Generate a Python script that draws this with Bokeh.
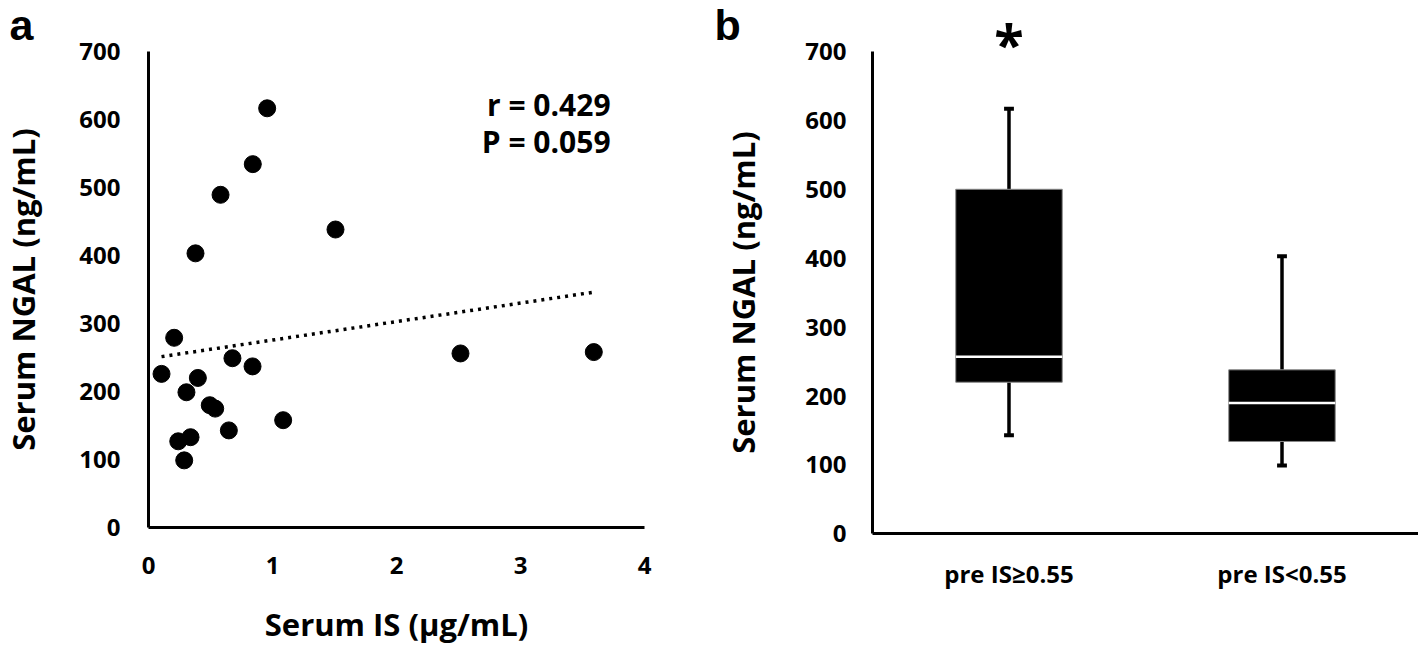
import numpy as np
from bokeh.plotting import figure
from bokeh.layouts import row
from bokeh.models import Range1d, FixedTicker, ColumnDataSource
from bokeh.core.properties import value
from bokeh.embed import file_html
from bokeh.resources import INLINE

# ---------------- data ----------------
# panel a: serum IS (µg/mL) vs serum NGAL (ng/mL)
serum_is = [0.957, 0.841, 0.581, 1.508, 0.379, 0.207, 2.516, 3.591, 0.677, 0.839,
            0.105, 0.398, 0.306, 0.494, 0.538, 1.086, 0.648, 0.339, 0.240, 0.288]
serum_ngal = [616, 534, 489, 438, 403, 279, 256, 258, 249, 237,
              226, 220, 199, 180, 175, 158, 143, 133, 127, 99]
stats_text = ["r = 0.429", "P = 0.059"]
xticks_a = [0, 1, 2, 3, 4]
yticks = [0, 100, 200, 300, 400, 500, 600, 700]

# panel b: box plot summaries
groups = ["pre IS\u22650.55", "pre IS<0.55"]
whisker_low = [143, 99]
q1 = [220, 134]
median = [257, 190]
q3 = [500, 238]
whisker_high = [617, 403]
significance = ["*", ""]

FONT = "Open Sans"
LETTER_FONT = "Liberation Sans"


def style_axes(p):
    for ax in (p.xaxis, p.yaxis):
        ax.axis_line_width = 3
        ax.axis_line_color = "black"
        ax.major_tick_out = 0
        ax.major_tick_in = 0
        ax.minor_tick_out = 0
        ax.minor_tick_in = 0
        ax.major_label_text_font = FONT
        ax.major_label_text_font_style = "bold"
        ax.major_label_text_font_size = "24px"
        ax.major_label_text_color = "black"
        ax.axis_label_text_font = FONT
        ax.axis_label_text_font_style = "bold"
        ax.axis_label_text_font_size = "31px"
        ax.axis_label_text_color = "black"
    p.xgrid.visible = False
    p.ygrid.visible = False
    p.outline_line_color = None


def txt(p, x, y, t, size, align="left", font=FONT):
    p.text(x=x, y=y, text=t, text_align=align, text_baseline="alphabetic",
           text_font=value(font), text_font_style="bold", text_font_size=size,
           text_color="black")


# ---------------- panel a ----------------
# frame spans the whole canvas; axes are drawn at fixed data locations
p1 = figure(width=708, height=647, output_backend="svg", toolbar_location=None,
            x_range=Range1d(-1.1935, 4.516), y_range=Range1d(-175.8, 774.3),
            min_border=0)
style_axes(p1)
p1.xaxis.fixed_location = 0
p1.yaxis.fixed_location = 0
p1.xaxis.bounds = (0, 4)
p1.yaxis.bounds = (0, 700)
p1.xaxis.ticker = FixedTicker(ticks=xticks_a)
p1.yaxis.ticker = FixedTicker(ticks=yticks)
p1.xaxis.axis_label = "Serum IS (\u00b5g/mL)"
p1.yaxis.axis_label = "Serum NGAL (ng/mL)"
p1.xaxis.major_label_standoff = 29
p1.yaxis.major_label_standoff = 28
p1.xaxis.axis_label_standoff = 26
p1.yaxis.axis_label_standoff = 32

xa = np.array(serum_is)
ya = np.array(serum_ngal)
slope, intercept = np.polyfit(xa, ya, 1)
tx = np.array([xa.min(), xa.max()])
p1.line(tx, slope * tx + intercept, line_color="black", line_width=3.5, line_dash="3 5")
p1.scatter(serum_is, serum_ngal, size=17, fill_color="black", line_color="black")

txt(p1, [3.726, 3.726], [622, 567], stats_text, "30px", align="right")
txt(p1, [-1.12], [739], ["a"], "43px", font=LETTER_FONT)

# ---------------- panel b ----------------
pos = [i + 0.5 for i in range(len(groups))]
p2 = figure(width=710, height=647, output_backend="svg", toolbar_location=None,
            x_range=Range1d(-0.6007, 2.0), y_range=Range1d(-165.0, 774.0),
            min_border=0)
style_axes(p2)
p2.xaxis.fixed_location = 0
p2.yaxis.fixed_location = 0
p2.xaxis.bounds = (0, 2.0)
p2.yaxis.bounds = (0, 700)
p2.xaxis.ticker = FixedTicker(ticks=pos)
p2.xaxis.major_label_overrides = {pv: g for pv, g in zip(pos, groups)}
p2.yaxis.ticker = FixedTicker(ticks=yticks)
p2.yaxis.axis_label = "Serum NGAL (ng/mL)"
p2.xaxis.major_label_standoff = 23
p2.yaxis.major_label_standoff = 26
p2.yaxis.axis_label_standoff = 38

src = ColumnDataSource(dict(x=pos, lo=whisker_low, q1=q1, med=median, q3=q3, hi=whisker_high))
box_w = 0.39
cap_w = 0.036
p2.segment(x0="x", y0="q3", x1="x", y1="hi", source=src, line_color="black", line_width=3.5)
p2.segment(x0="x", y0="lo", x1="x", y1="q1", source=src, line_color="black", line_width=3.5)
p2.vbar(x="x", width=cap_w, bottom="hi", top="hi", source=src, line_color="black", line_width=4)
p2.vbar(x="x", width=cap_w, bottom="lo", top="lo", source=src, line_color="black", line_width=4)
p2.vbar(x="x", width=box_w, bottom="q1", top="q3", source=src,
        fill_color="black", line_color="#888888", line_width=1)
p2.segment(x0=[v - box_w / 2 for v in pos], y0=median, x1=[v + box_w / 2 for v in pos], y1=median,
           line_color="white", line_width=2.5)

sig_x = [xv for xv, s in zip(pos, significance) if s]
sig_t = [s for s in significance if s]
txt(p2, sig_x, [712] * len(sig_x), sig_t, "54px", align="center")
txt(p2, [-0.579], [739], ["b"], "43px", font=LETTER_FONT)

layout = row(p1, p2)
open("out.html", "w").write(file_html(layout, INLINE))
